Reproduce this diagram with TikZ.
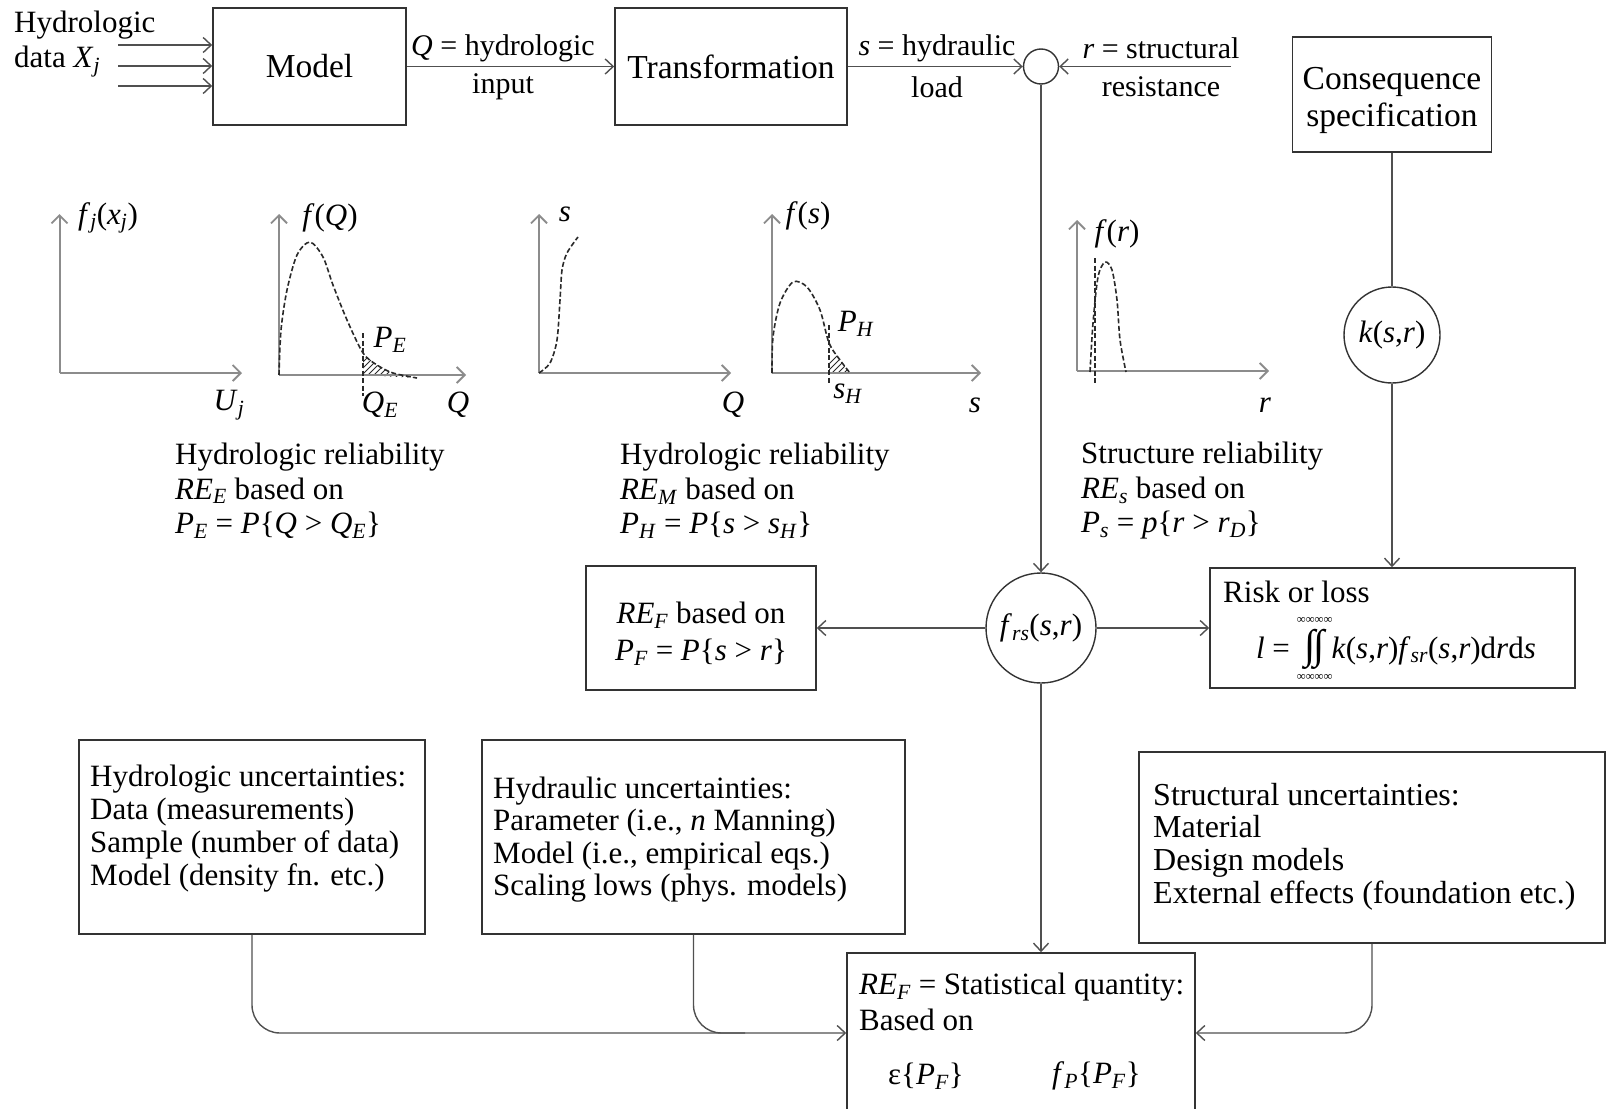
\RequirePackage{fix-cm}
\documentclass[tikz,border=0pt]{standalone}
\usepackage{fontspec}
\setmainfont{Liberation Serif}
\usetikzlibrary{arrows.meta}
\newcommand{\iv}[1]{\textit{#1}}
\newcommand{\isub}[1]{\textsubscript{\textit{#1}}}
\newcommand{\myinf}{{\fontsize{12.5}{12.5}\selectfont ∞∞∞∞}}
\newcommand{\intpair}{\makebox[34pt]{\fontsize{41}{41}\selectfont ∫\kern-2pt∫}\kern-34pt\raisebox{35pt}{\makebox[34pt]{\myinf}}\kern-34pt\raisebox{-22pt}{\makebox[34pt]{\myinf}}}
\definecolor{boxc}{HTML}{333333}
\definecolor{conc}{HTML}{505050}
\definecolor{axc}{HTML}{8C8C8C}
\definecolor{curvc}{HTML}{2A2A2A}
\tikzset{
  box/.style={draw=boxc, line width=1.6pt, rectangle, inner sep=0pt},
  circ/.style={draw=boxc, line width=1.4pt, circle, inner sep=0pt},
  conn/.style={draw=conc, line width=1.4pt},
  arr/.style={conn, -{Straight Barb[length=8pt,width=15pt,line width=1.4pt]}},
  axis/.style={draw=axc, line width=2pt, -{Straight Barb[length=8pt,width=16pt,line width=1.8pt]}},
  curve/.style={draw=curvc, line width=1.6pt, dash pattern=on 5pt off 2.5pt},
  hatch/.style={draw=curvc, line width=0.9pt},
  txt/.style={align=left, anchor=west, inner sep=0pt, font=\fontsize{31}{33}\selectfont},
  lbl/.style={inner sep=0pt, font=\fontsize{31}{34}\selectfont},
  toplbl/.style={inner sep=0pt, font=\fontsize{30}{34}\selectfont},
  big/.style={font=\fontsize{33.5}{37}\selectfont}
}
\begin{document}
\begin{tikzpicture}[x=1pt,y=-1pt]
\useasboundingbox (0,0) rectangle (1608,1108);
\fill[white] (0,0) rectangle (1608,1108);

% ---------- top row ----------
\node[txt, font=\fontsize{31}{35}\selectfont] (hdt) at (14,44) {Hydrologic\\data \iv{X}\isub{j}};
\node[box, big, minimum width=193pt, minimum height=117pt] (model) at (309.5,66.5) {Model};
\node[box, big, minimum width=232pt, minimum height=117pt] (trans) at (731,66.5) {Transformation};
\node[circ, minimum size=35pt] (junc) at (1041,66.5) {};
\node[box, minimum width=199pt, minimum height=115pt] (cons) at (1392,94.5) {};
\node[big, align=center, inner sep=0pt] (const) at (1392,100) {Consequence\\specification};

\foreach \yy [count=\i] in {45,66,86} {
  \coordinate (in\i) at (118,\yy);
  \draw[arr] (in\i) -- (in\i -| model.west);
}
\draw[arr] (model.east) -- (trans.west);
\node[toplbl] (ql1) at (503,48) {\iv{Q} = hydrologic};
\node[toplbl] (ql2) at (503,87) {input};
\draw[arr] (trans.east) -- (junc.west);
\node[toplbl] (sl1) at (937,48) {\iv{s} = hydraulic};
\node[toplbl] (sl2) at (937,87) {load};
\coordinate (rin) at (1231,66.5);
\draw[arr] (rin) -- (junc.east);
\node[toplbl] (rl1) at (1161,48) {\iv{r} = structural};
\node[toplbl] (rl2) at (1161,87) {resistance};

% ---------- plots ----------
% plot 1
\draw[axis] (59.5,373) -- (59.5,214);
\draw[axis] (59.5,373) -- (242,373);
\node[lbl] (p1y) at (108,218) {\iv{f}\isub{j}(\iv{x}\isub{j})};
\node[lbl] (p1x) at (229,405) {\iv{U}\isub{j}};

% plot 2
\begin{scope}
  \clip (363,375) -- (363,353) -- plot[smooth] coordinates {(363,353) (377,365) (393,373) (417,378)} -- cycle;
  \foreach \k in {0,...,14} \draw[hatch] (340+\k*6,385) -- ++(30,-30);
\end{scope}
\draw[axis] (279,375) -- (279,214);
\draw[axis] (279,375) -- (466,375);
\draw[curve] plot[smooth] coordinates {(279,375) (281,330) (287,290) (297,255) (310,242) (323,257) (333,285) (347,320) (363,353) (377,365) (393,373) (417,378)};
\draw[curve] (363,333) -- (363,396);
\node[lbl] (p2y) at (330,218) {\iv{f}(\iv{Q})};
\node[lbl] (p2p) at (390,340) {\iv{P}\isub{E}};
\node[lbl] (p2q) at (380,405) {\iv{Q}\isub{E}};
\node[lbl] (p2x) at (458,405) {\iv{Q}};

% plot 3
\draw[axis] (539,373) -- (539,214);
\draw[axis] (539,373) -- (731,373);
\draw[curve] plot[smooth] coordinates {(539,373) (550,363) (557,340) (560,300) (562,270) (567,253) (578,237)};
\node[lbl] (p3y) at (565,214) {\iv{s}};
\node[lbl] (p3x) at (733,405) {\iv{Q}};

% plot 4
\begin{scope}
  \clip (829,373) -- (829,343) -- plot[smooth] coordinates {(829,343) (840,360) (850,373)} -- cycle;
  \foreach \k in {0,...,10} \draw[hatch] (810+\k*6,383) -- ++(30,-30);
\end{scope}
\draw[axis] (772,373) -- (772,214);
\draw[axis] (772,373) -- (981,373);
\draw[curve] plot[smooth] coordinates {(772,373) (773,337) (780,303) (793,282) (807,287) (820,310) (829,343) (840,360) (850,373)};
\draw[curve] (829,325) -- (829,384);
\node[lbl] (p4y) at (808,216) {\iv{f}(\iv{s})};
\node[lbl] (p4p) at (856,324) {\iv{P}\isub{H}};
\node[lbl] (p4q) at (848,394) {\iv{s}\isub{H}};
\node[lbl] (p4x) at (975,405) {\iv{s}};

% plot 5
\draw[axis] (1077,371) -- (1077,220);
\draw[axis] (1077,371) -- (1269,371);
\draw[curve] plot[smooth] coordinates {(1090,372) (1093,323) (1098,277) (1105,262) (1112,270) (1117,300) (1120,340) (1126,372)};
\draw[curve] (1095,258) -- (1095,384);
\node[lbl] (p5y) at (1117,234) {\iv{f}(\iv{r})};
\node[lbl] (p5x) at (1265,405) {\iv{r}};

% captions
\node[txt, font=\fontsize{31}{34.5}\selectfont] (cap1) at (175,491) {Hydrologic reliability\\\iv{RE}\isub{E} based on\\\iv{P}\isub{E} = \iv{P}\{\iv{Q} > \iv{Q}\isub{E}\}};
\node[txt, font=\fontsize{31}{34.5}\selectfont] (cap2) at (620,491) {Hydrologic reliability\\\iv{RE}\isub{M} based on\\\iv{P}\isub{H} = \iv{P}\{\iv{s} > \iv{s}\isub{H}\}};
\node[txt, font=\fontsize{31}{34.5}\selectfont] (cap3) at (1081,491) {Structure reliability\\\iv{RE}\isub{s} based on\\\iv{P}\isub{s} = \iv{p}\{\iv{r} > \iv{r}\isub{D}\}};

% ---------- middle row ----------
\node[circ, lbl, minimum size=96pt] (kc) at (1392,335) {\iv{k}(\iv{s},\iv{r})};
\node[circ, lbl, minimum size=110pt] (frs) at (1041,628) {\iv{f}\isub{rs}(\iv{s},\iv{r})};
\node[box, minimum width=230pt, minimum height=124pt] (refb) at (701,628) {};
\node[lbl, align=center, font=\fontsize{31}{37}\selectfont] (refbt) at (701,634) {\iv{RE}\isub{F} based on\\\iv{P}\isub{F} = \iv{P}\{\iv{s} > \iv{r}\}};
\node[box, minimum width=365pt, minimum height=120pt] (risk) at (1392.5,628) {};
\node[txt] (risk1) at (1223,592) {Risk or loss};
\node[lbl, anchor=base] (risk2) at (1396,658) {\iv{l} = \intpair\iv{k}(\iv{s},\iv{r})\iv{f}\isub{sr}(\iv{s},\iv{r})d\iv{r}d\iv{s}};

\draw[arr] (junc.south) -- (frs.north);
\draw[conn] (cons.south) -- (kc.north);
\draw[arr] (kc.south) -- (kc.south |- risk.north);
\draw[arr] (frs.west) -- (refb.east);
\draw[arr] (frs.east) -- (risk.west);

% ---------- bottom row ----------
\node[box, minimum width=346pt, minimum height=194pt] (hydu) at (252,837) {};
\node[txt] (hydut) at (90,829) {Hydrologic uncertainties:\\Data (measurements)\\Sample (number of data)\\Model (density fn. etc.)};
\node[box, minimum width=423pt, minimum height=194pt] (hyda) at (693.5,837) {};
\node[txt, font=\fontsize{31}{32.5}\selectfont] (hydat) at (493,839.5) {Hydraulic uncertainties:\\Parameter (i.e., \iv{n} Manning)\\Model (i.e., empirical eqs.)\\Scaling lows (phys. models)};
\node[box, minimum width=466pt, minimum height=191pt] (stru) at (1372,847.5) {};
\node[txt, font=\fontsize{32}{32.7}\selectfont] (strut) at (1153,846.5) {Structural uncertainties:\\Material\\Design models\\External effects (foundation etc.)};

\node[box, minimum width=348pt, minimum height=160pt] (stat) at (1021,1033) {};
\node[txt] (st1) at (859,987) {\iv{RE}\isub{F} = Statistical quantity:};
\node[txt] (st2) at (859,1020) {Based on};
\node[txt] (st3) at (888,1076) {ε\{\iv{P}\isub{F}\}};
\node[txt] (st4) at (1052,1076) {\iv{f}\isub{P}\{\iv{P}\isub{F}\}};

\draw[arr] (frs.south) -- (frs.south |- stat.north);
\coordinate (mrg) at (745,1033);
\draw[arr, rounded corners=28pt] (hydu.south) |- (stat.west);
\draw[conn, rounded corners=28pt] (hyda.south) |- (mrg);
\draw[arr, rounded corners=28pt] (stru.south) |- (stat.east);
\end{tikzpicture}
\end{document}
